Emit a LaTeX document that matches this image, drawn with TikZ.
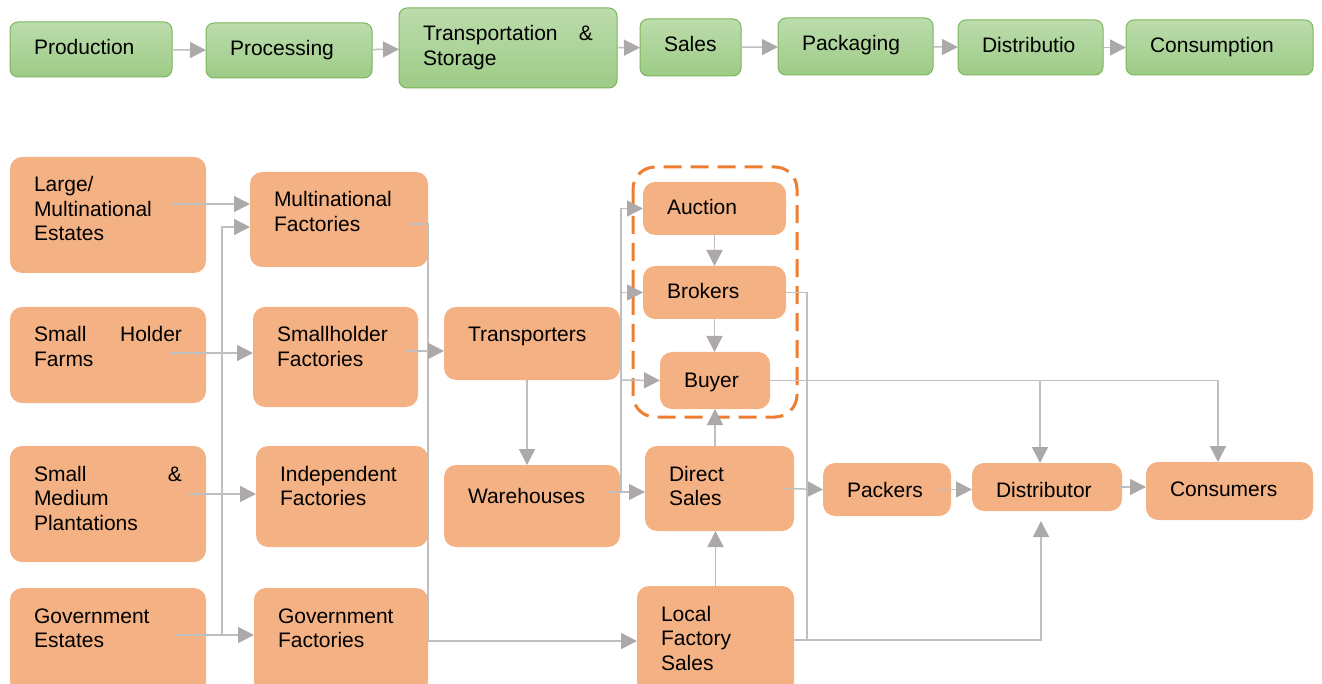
\documentclass[tikz,border=0pt]{standalone}
\usepackage{fontspec}
\setmainfont{Liberation Sans}
\usetikzlibrary{arrows.meta}

\definecolor{stagetop}{HTML}{BCDCAC}
\definecolor{stagebot}{HTML}{9DCB86}
\definecolor{stageline}{HTML}{7DB65E}
\definecolor{actorfill}{HTML}{F4B183}
\definecolor{groupline}{HTML}{ED7D31}
\definecolor{linegray}{HTML}{BFBFBF}
\definecolor{tipgray}{HTML}{ADA9A9}

\tikzset{
  every node/.style={font=\fontsize{21}{24.5}\selectfont, outer sep=0pt},
  stage/.style={draw=stageline, line width=1pt, top color=stagetop, bottom color=stagebot,
    rounded corners=8pt, anchor=north west, inner xsep=24pt, inner ysep=0pt,
    text height=33pt, align=left},
  actor/.style={fill=actorfill, rounded corners=12pt, anchor=north west,
    inner xsep=24pt, inner ysep=0pt, text height=35pt, align=left},
  link/.style={draw=linegray, line width=1.5pt},
  flow/.style={link, -{Triangle[length=16pt,width=16pt,color=tipgray]}},
  group/.style={draw=groupline, line width=3pt, rounded corners=22pt, dash pattern=on 18pt off 9pt}
}

\begin{document}
\begin{tikzpicture}[x=1pt,y=-1pt]
      \useasboundingbox (0,0) rectangle (1322,684);
      \clip (0,0) rectangle (1322,684);
      % value chain
      \node[stage, text width=114pt, text depth=22pt] (prod) at (10,22) {Production};
      \node[stage, text width=118pt, text depth=22pt] (proc) at (206,23) {Processing};
      \node[stage, text width=170pt, text depth=47pt] (trst) at (399,8) {Transportation\hfill\&\\Storage};
      \node[stage, text width=53pt, text depth=24pt] (sale) at (640,19) {Sales};
      \node[stage, text width=107pt, text depth=24pt] (pkg) at (778,18) {Packaging};
      \node[stage, text width=97pt, text depth=22pt] (distr) at (958,20) {Distributio};
      \node[stage, text width=139pt, text depth=22pt] (cons) at (1126,20) {Consumption};
      \draw [flow] (prod) -- (proc);
      \draw [flow] (proc) -- (trst);
      \draw [flow] (trst) -- (sale);
      \draw [flow] (sale) -- (pkg);
      \draw [flow] (pkg) -- (distr);
      \draw [flow] (distr) -- (cons);
      % growers
      \node[actor, text width=148pt, text depth=81pt] (lme) at (10,157) {Large/\\Multinational\\Estates};
      \node[actor, text width=148pt, text depth=61pt] (shf) at (10,307) {Small\hfill Holder\\Farms};
      \node[actor, text width=148pt, text depth=81pt] (smp) at (10,446) {Small\hfill\&\\Medium\\Plantations};
      \node[actor, text width=148pt, text depth=71pt] (ge) at (10,588) {Government\\Estates};
      % factories
      \node[actor, text width=130pt, text depth=60pt] (mf) at (250,172) {Multinational\\Factories};
      \node[actor, text width=117pt, text depth=65pt] (shfac) at (253,307) {Smallholder\\Factories};
      \node[actor, text width=124pt, text depth=66pt] (indf) at (256,446) {Independent\\Factories};
      \node[actor, text width=126pt, text depth=71pt] (gf) at (254,588) {Government\\Factories};
      % logistics and sales
      \node[actor, text width=128pt, text depth=38pt] (tra) at (444,307) {Transporters};
      \node[actor, text width=128pt, text height=38pt, text depth=44pt] (wh) at (444,465) {Warehouses};
      \node[actor, text width=95pt, text height=33pt, text depth=20pt] (auc) at (643,182) {Auction};
      \node[actor, text width=95pt, text height=33pt, text depth=20pt] (bro) at (643,266) {Brokers};
      \node[actor, text width=62pt, text depth=22pt] (buy) at (660,352) {Buyer};
      \node[actor, text width=101pt, text depth=50pt] (ds) at (645,446) {Direct\\Sales};
      \node[actor, text width=109pt, text depth=73pt] (lfs) at (637,586) {Local\\Factory\\Sales};
      \node[actor, text width=80pt, text height=34pt, text depth=19pt] (pak) at (823,463) {Packers};
      \node[actor, text width=102pt, text height=34pt, text depth=14pt] (dis) at (972,463) {Distributor};
      \node[actor, text width=119pt, text height=34pt, text depth=24pt] (con) at (1146,462) {Consumers};
      \draw [group] (633,167) rectangle (797,417);
      \coordinate (bj) at (1040,380.5);
      % growers to factories
      \draw [flow] ([xshift=-34,yshift=11]lme.east) -- ([yshift=15.5]mf.west);
      \draw [flow] ([xshift=-36,yshift=2]shf.east) -- ([yshift=4]shfac.west);
      \draw [flow] ([xshift=-16,yshift=10]smp.east) -- ([yshift=2.5]indf.west);
      \draw [flow] ([xshift=-30,yshift=6]ge.east) -- ([yshift=6]gf.west);
      \draw [flow] ([xshift=-32,yshift=6]gf.west) |- ([yshift=-7.5]mf.west);
      % factories onwards
      \draw [link] ([xshift=-18,yshift=-4.5]mf.east) -| (gf.east);
      \draw [flow] (gf.east) -- (gf.east -| lfs.west);
      \draw [flow] ([xshift=-13,yshift=6]shfac.east) -- ([yshift=-7.5]tra.west);
      \draw [flow] ([xshift=-5]tra.south) -- ([xshift=-5]wh.north);
      \draw [flow] (tra.south east) -- (buy.west);
      \draw [flow] ([xshift=-13,yshift=14]wh.east) -- ([yshift=-3.5]ds.west);
      \draw [flow] ([xshift=-24,yshift=-3.5]ds.west) |- (auc.west);
      \draw [flow] ([xshift=-22]bro.west) -- (bro.west);
      \draw [flow] (auc.south) -- (bro.north);
      \draw [flow] (bro.south) -- (bro.south |- buy.north);
      \draw [flow] (buy.south |- ds.north) -- (buy.south);
      \draw [flow] (lfs.north) -- (lfs.north |- ds.south);
      \draw [flow] ([xshift=-10]ds.east) -- (pak.west);
      \draw [link] (bro.east) -| ([xshift=13]lfs.east);
      \draw [flow, shorten >=10pt] (lfs.east) -| ([xshift=-6]dis.south);
      \draw [flow] (buy.east) -| ([xshift=-11.5]con.north);
      \draw [flow] (bj) -- (bj |- dis.north);
      \draw [flow] ([xshift=-14]pak.east) -- (pak.east -| dis.west);
      \draw [flow] ([xshift=-3]dis.east) -- (dis.east -| con.west);
    \end{tikzpicture}
\end{document}
